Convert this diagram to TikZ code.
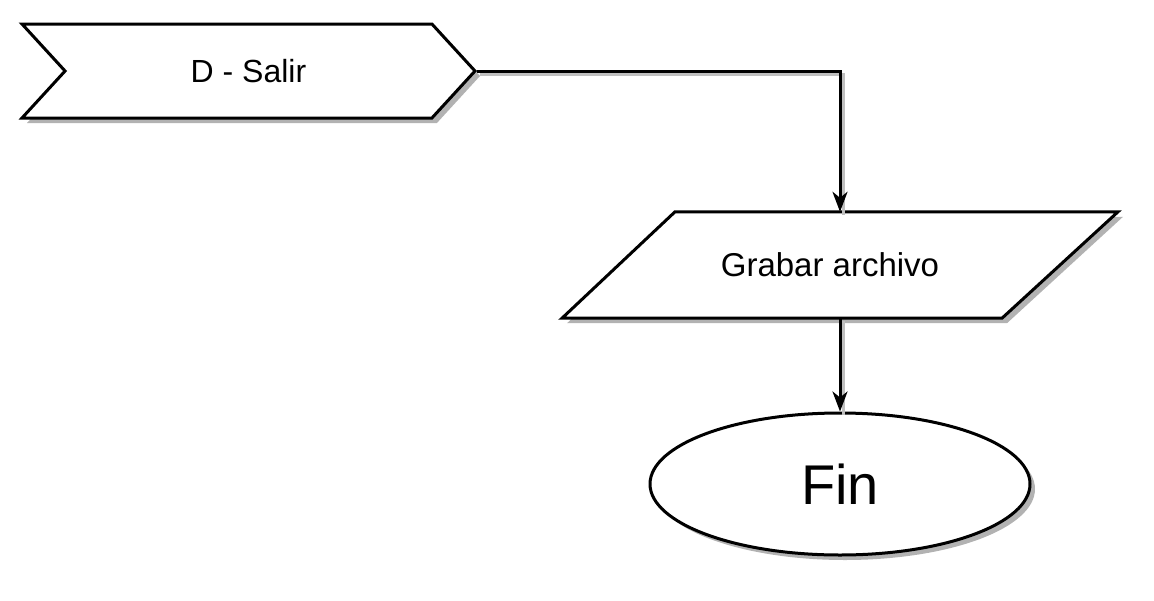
\documentclass[tikz,border=0pt]{standalone}
\usepackage{fontspec}
\setmainfont{Liberation Sans}
\usetikzlibrary{shapes.symbols,shapes.geometric,shadows,arrows.meta,backgrounds}

\tikzset{
  shade box/.style={draw=black, fill=white, line width=3pt, line join=miter,
    drop shadow={shadow xshift=5pt, shadow yshift=-5pt, fill=black!30, opacity=1}},
  flow/.style={line width=3pt, -{Stealth[length=20pt,width=15pt,inset=6pt]},
    preaction={draw=black!25, line width=3pt, -, transform canvas={shift={(3pt,-3pt)}}}}
}

\begin{document}
\begin{tikzpicture}[x=1pt,y=-1pt]
\useasboundingbox (0,0) rectangle (1154,600);

\node[shade box, signal, signal from=west, signal to=east, signal pointer angle=95,
  minimum width=453pt, minimum height=94pt, inner sep=0pt,
  font=\fontsize{32}{38}\selectfont] (salir) at (248.5,71) {D - Salir};

\node[minimum width=443pt, minimum height=106pt, inner sep=0pt,
  font=\fontsize{33}{40}\selectfont] (grabar) at (840,265) {\hspace*{-20pt}Grabar archivo};
\begin{pgfonlayer}{background}
\draw[shade box] ([xshift=-165pt]grabar.north) -- ([xshift=278pt]grabar.north)
  -- ([xshift=162pt]grabar.south) -- ([xshift=-278pt]grabar.south) -- cycle;
\end{pgfonlayer}

\node[shade box, ellipse, minimum width=380pt, minimum height=142pt, inner sep=0pt,
  font=\fontsize{56}{66}\selectfont] (fin) at (840,484) {Fin};

\draw[flow] (salir.east) -| (grabar.north);
\draw[flow] (grabar.south) -- (fin.north);

\end{tikzpicture}
\end{document}
